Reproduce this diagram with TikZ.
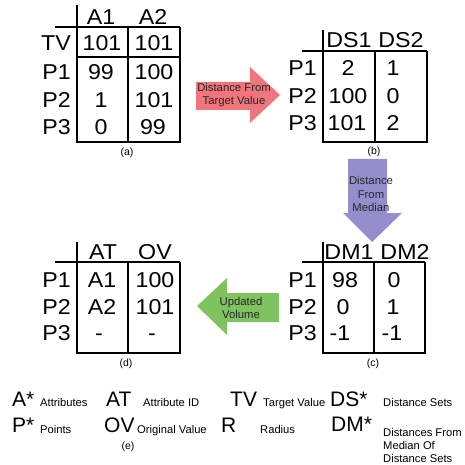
\documentclass[tikz,border=0pt]{standalone}
\usepackage{fontspec}
\setmainfont{Liberation Sans}
\newfontfamily\tablefont[FakeStretch=1.08]{Liberation Sans}
\definecolor{arrowred}{RGB}{241,118,124}
\definecolor{arrowblue}{RGB}{148,143,204}
\definecolor{arrowgreen}{RGB}{128,194,96}
\begin{document}
\begin{tikzpicture}[x=1pt,y=-1pt,
  cell/.style={font=\tablefont\fontsize{21.5}{21.5}\selectfont, inner sep=0pt, text height=15.4pt, text depth=0pt, anchor=center},
  rowlab/.style={cell, anchor=east},
  grid/.style={line width=1.7pt},
  caption/.style={font=\fontsize{10.5}{10.5}\selectfont, inner sep=0pt},
  arrowtext/.style={font=\fontsize{11.3}{13.5}\selectfont, align=center, inner sep=0pt, text=black!85},
  bigsym/.style={font=\fontsize{21}{21}\selectfont, inner sep=0pt, anchor=base west},
  desc/.style={font=\fontsize{11.2}{13}\selectfont, inner sep=0pt, anchor=base west, align=left},
]
\useasboundingbox (0,0) rectangle (465,465);

% ---------- table (a): attribute values ----------
\draw[grid] (77,5) -- (77,142) -- (180,142) -- (180,27);
\draw[grid] (55,27) -- (180,27);
\draw[grid] (77,57) -- (180,57);
\draw[grid] (128,27) -- (128,142);
\node[cell] (aH1) at (101,17) {A1};
\node[cell] (aH2) at (153,17) {A2};
\node[rowlab] (aTV) at (71,43) {TV};
\node[cell] (aTV1) at (102,43) {101};
\node[cell] (aTV2) at (154,43) {101};
\node[rowlab] (aP1) at (71,72) {P1};
\node[cell] (aP11) at (101,72) {99};
\node[cell] (aP12) at (154,72) {100};
\node[rowlab] (aP2) at (71,100) {P2};
\node[cell] (aP21) at (101,100) {1};
\node[cell] (aP22) at (154,100) {101};
\node[rowlab] (aP3) at (71,127) {P3};
\node[cell] (aP31) at (101,127) {0};
\node[cell] (aP32) at (153,127) {99};
\node[caption] (capA) at (127,153) {(a)};

% ---------- table (b): distance sets ----------
\draw[grid] (323,30) -- (323,142) -- (427,142) -- (427,51);
\draw[grid] (302,51) -- (427,51);
\draw[grid] (375,51) -- (375,142);
\node[cell] (bH1) at (349,40) {DS1};
\node[cell] (bH2) at (401,40) {DS2};
\node[rowlab] (bP1) at (317,68) {P1};
\node[cell] (bP11) at (348,68) {2};
\node[cell] (bP12) at (393,68) {1};
\node[rowlab] (bP2) at (317,96) {P2};
\node[cell] (bP21) at (348,96) {100};
\node[cell] (bP22) at (393,96) {0};
\node[rowlab] (bP3) at (317,123) {P3};
\node[cell] (bP31) at (347,123) {101};
\node[cell] (bP32) at (393,123) {2};
\node[caption] (capB) at (374,152) {(b)};

% ---------- table (c): distances from median ----------
\draw[grid] (323,242) -- (323,353) -- (425,353) -- (425,262);
\draw[grid] (302,262) -- (425,262);
\draw[grid] (374,262) -- (374,353);
\node[cell] (cH1) at (349,252) {DM1};
\node[cell] (cH2) at (405,252) {DM2};
\node[rowlab] (cP1) at (317,280) {P1};
\node[cell] (cP11) at (345,280) {98};
\node[cell] (cP12) at (394,280) {0};
\node[rowlab] (cP2) at (317,307) {P2};
\node[cell] (cP21) at (343,307) {0};
\node[cell] (cP22) at (393,307) {1};
\node[rowlab] (cP3) at (317,333) {P3};
\node[cell] (cP31) at (340,333) {-1};
\node[cell] (cP32) at (392,333) {-1};
\node[caption] (capC) at (373,364) {(c)};

% ---------- table (d): updated values ----------
\draw[grid] (77,242) -- (77,353) -- (180,353) -- (180,262);
\draw[grid] (55,262) -- (180,262);
\draw[grid] (128,262) -- (128,353);
\node[cell] (dH1) at (103,252) {AT};
\node[cell] (dH2) at (155,252) {OV};
\node[rowlab] (dP1) at (71,280) {P1};
\node[cell] (dP11) at (102,280) {A1};
\node[cell] (dP12) at (155,280) {100};
\node[rowlab] (dP2) at (71,307) {P2};
\node[cell] (dP21) at (102,307) {A2};
\node[cell] (dP22) at (155,307) {101};
\node[rowlab] (dP3) at (71,333) {P3};
\node[cell] (dP31) at (99,333) {-};
\node[cell] (dP32) at (152,333) {-};
\node[caption] (capD) at (126,364) {(d)};

% ---------- block arrows between the steps ----------
\fill[arrowred] (196,82) -- (250,82) -- (250,67) -- (280,95) -- (250,123) -- (250,110) -- (196,110) -- cycle;
\node[arrowtext] (arrRed) at (234,95) {Distance From\\Target Value};

\fill[arrowblue] (348,159) -- (387,159) -- (387,213) -- (402,213) -- (372,242) -- (343,213) -- (348,213) -- cycle;
\node[arrowtext] (arrBlue) at (371,194) {Distance\\From\\Median};

\fill[arrowgreen] (279,293) -- (227,293) -- (227,278) -- (197,306) -- (227,335) -- (227,322) -- (279,322) -- cycle;
\node[arrowtext] (arrGreen) at (241,308) {Updated\\Volume};

% ---------- legend (e) ----------
\node[bigsym] (lgA) at (12,406) {A*};
\node[desc] (lgAd) at (40,406) {Attributes};
\node[bigsym] (lgAT) at (106,406) {AT};
\node[desc] (lgATd) at (143,406) {Attribute ID};
\node[bigsym] (lgTV) at (230,406) {TV};
\node[desc] (lgTVd) at (263,406) {Target Value};
\node[bigsym] (lgDS) at (330,406) {DS*};
\node[desc] (lgDSd) at (383,406) {Distance Sets};

\node[bigsym] (lgP) at (12,432) {P*};
\node[desc] (lgPd) at (40,433) {Points};
\node[bigsym] (lgOV) at (104,432) {OV};
\node[desc] (lgOVd) at (137,433) {Original Value};
\node[bigsym] (lgR) at (221,432) {R};
\node[desc] (lgRd) at (260,433) {Radius};
\node[bigsym] (lgDM) at (331,431) {DM*};
\node[desc, anchor=north west] (lgDMd) at (383,428) {Distances From\\Median Of\\Distance Sets};
\node[caption] (capE) at (128,447) {(e)};
\end{tikzpicture}
\end{document}
